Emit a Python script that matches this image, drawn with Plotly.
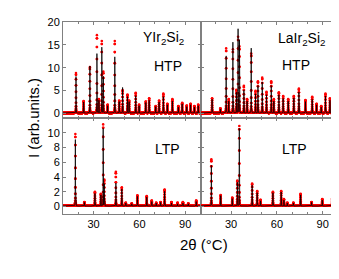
import numpy as np
import plotly.graph_objects as go
from plotly.subplots import make_subplots

# ---- data: peak positions (2theta) and heights ----
y_htp_pos = [18.5, 23.5, 27.6, 32.2, 33.5, 35.4, 36.4, 39.2, 43.9, 46.8, 49.0, 52.2, 53.3, 57.6, 59.8,
             64.2, 66.4, 70.7, 72.9, 75.7, 78.3, 81.6, 85.5, 88.0, 91.0, 93.5, 96.0, 98.5]
y_htp_obs = [8.7, 2.6, 10.0, 17.0, 3.0, 15.7, 9.0, 1.8, 15.7, 2.7, 5.0, 4.0, 2.7, 4.4, 1.8,
             2.5, 3.2, 1.5, 2.7, 4.2, 2.0, 3.0, 1.5, 2.2, 1.6, 2.0, 1.5, 1.8]
y_htp_calc = [8.0, 2.4, 10.3, 13.0, 2.8, 14.4, 8.0, 1.6, 12.3, 2.5, 5.6, 3.6, 2.5, 3.8, 1.6,
              2.3, 2.8, 1.4, 2.4, 3.6, 1.8, 2.6, 1.3, 2.0, 1.4, 1.8, 1.3, 1.6]

la_htp_pos = [17.6, 23.0, 26.8, 28.5, 31.2, 33.5, 34.6, 35.5, 38.4, 40.5, 43.2, 46.0, 47.6, 50.4, 53.2,
              56.3, 58.0, 61.3, 64.1, 67.4, 71.1, 74.4, 78.7, 83.1, 86.0, 89.0, 91.8, 94.7, 97.3]
la_htp_obs = [3.2, 1.0, 14.1, 3.0, 13.9, 5.0, 16.6, 14.5, 5.9, 3.0, 13.0, 4.8, 6.9, 7.7, 4.6,
              6.9, 3.0, 4.5, 3.7, 3.0, 3.7, 5.3, 2.8, 3.5, 2.0, 1.5, 4.2, 3.2, 3.6]
la_htp_calc = [3.0, 0.9, 12.5, 2.6, 15.5, 4.5, 18.4, 16.0, 5.0, 2.6, 14.2, 4.2, 6.0, 6.8, 4.0,
               6.0, 2.6, 4.0, 3.2, 2.6, 3.3, 4.6, 2.5, 3.0, 1.8, 1.3, 3.7, 2.8, 3.2]

y_ltp_pos = [18.1, 24.0, 30.9, 34.8, 36.3, 37.0, 44.6, 48.5, 51.1, 55.0, 58.7, 64.8, 68.1, 71.0,
             73.9, 76.5, 81.0, 85.0, 88.5, 92.0, 97.2]
y_ltp_obs = [9.7, 0.5, 1.9, 1.6, 11.0, 3.5, 4.6, 2.5, 0.4, 0.3, 1.4, 1.3, 0.7, 0.4,
             0.5, 2.2, 0.5, 0.4, 0.5, 0.3, 0.7]
y_ltp_calc = [9.0, 0.5, 1.7, 1.5, 10.5, 3.0, 3.1, 2.3, 0.4, 0.3, 1.3, 1.2, 0.6, 0.4,
              0.5, 2.0, 0.4, 0.3, 0.4, 0.3, 0.6]

la_ltp_pos = [17.1, 23.2, 30.8, 34.1, 35.4, 43.8, 47.1, 49.3, 57.4, 62.8, 64.6, 66.8, 70.8, 75.5,
              82.7, 89.7, 96.2]
la_ltp_obs = [6.3, 1.45, 1.1, 3.4, 10.8, 3.0, 2.0, 0.8, 1.9, 2.0, 0.9, 0.4, 0.4, 1.6, 0.5, 0.9, 1.0]
la_ltp_calc = [5.5, 1.4, 1.0, 3.2, 10.5, 2.8, 1.8, 0.7, 1.8, 1.9, 0.8, 0.4, 0.4, 1.5, 0.5, 0.8, 0.9]

x_ticks = [30, 60, 90]
y_ticks_top = [0, 5, 10, 15, 20]
y_ticks_bottom = [0, 2, 4, 6, 8, 10]
panel_names = ["YIr<sub>2</sub>Si<sub>2</sub>", "LaIr<sub>2</sub>Si<sub>2</sub>"]
phase_names = ["HTP", "LTP"]

# ---- build profiles from the peak lists ----
two_theta = np.arange(10, 100.0001, 0.02)


def profile(pos, heights, bg):
    y = np.full_like(two_theta, bg)
    for p, h in zip(pos, heights):
        d = two_theta - p
        g = np.exp(-0.5 * (d / 0.07) ** 2)
        lz = 1.0 / (1.0 + (d / 0.09) ** 2)
        y += h * (0.8 * g + 0.2 * lz)
    return y


panels = [
    (1, 1, y_htp_pos, y_htp_obs, y_htp_calc),
    (1, 2, la_htp_pos, la_htp_obs, la_htp_calc),
    (2, 1, y_ltp_pos, y_ltp_obs, y_ltp_calc),
    (2, 2, la_ltp_pos, la_ltp_obs, la_ltp_calc),
]

fig = make_subplots(rows=2, cols=2, horizontal_spacing=0, vertical_spacing=0)

for r, c, pos, obs, calc in panels:
    fig.add_trace(go.Scatter(x=two_theta, y=profile(pos, obs, 0.12), mode="markers",
                             marker=dict(color="#ff0000", size=2.6, line=dict(width=0)),
                             showlegend=False, hoverinfo="skip"), row=r, col=c)
    fig.add_trace(go.Scatter(x=two_theta, y=profile(pos, calc, 0.08), mode="lines",
                             line=dict(color="#000000", width=0.8),
                             showlegend=False, hoverinfo="skip"), row=r, col=c)

axis_common = dict(showline=True, linecolor="#808080", linewidth=1, mirror="ticks",
                   ticks="inside", ticklen=3, tickcolor="#808080", showgrid=False,
                   zeroline=False, tickfont=dict(size=11, color="#000000"))

for r in (1, 2):
    for c in (1, 2):
        fig.update_xaxes(range=[10, 100], tickvals=x_ticks, showticklabels=(r == 2),
                         minor=dict(dtick=10, tick0=0, ticks="inside", ticklen=2, tickcolor="#808080"),
                         row=r, col=c, **axis_common)
        if r == 1:
            fig.update_yaxes(range=[-1, 20], tickvals=y_ticks_top, showticklabels=(c == 1),
                             row=r, col=c, **axis_common)
        else:
            fig.update_yaxes(range=[-1, 12], tickvals=y_ticks_bottom, showticklabels=(c == 1),
                             row=r, col=c, **axis_common)

ann_font = dict(family="Liberation Sans, Arial, sans-serif", size=14, color="#000000")
annotations = [
    dict(x=0.364, y=0.919, text=panel_names[0]),
    dict(x=0.382, y=0.772, text=phase_names[0]),
    dict(x=0.868, y=0.914, text=panel_names[1]),
    dict(x=0.848, y=0.775, text=phase_names[0]),
    dict(x=0.380, y=0.339, text=phase_names[1]),
    dict(x=0.841, y=0.340, text=phase_names[1]),
]
for a in annotations:
    fig.add_annotation(xref="paper", yref="paper", showarrow=False, font=ann_font,
                       xanchor="center", yanchor="middle", **a)

fig.add_annotation(xref="paper", yref="paper", x=-0.109, y=0.5, text="I (arb.units.)",
                   textangle=-90, showarrow=False, font=dict(ann_font, size=15),
                   xanchor="center", yanchor="middle")
fig.add_annotation(xref="paper", yref="paper", x=0.513, y=-0.157, text="2θ (°C)",
                   showarrow=False, font=dict(ann_font, size=15),
                   xanchor="center", yanchor="middle")

fig.update_layout(width=339, height=279, margin=dict(l=55, r=8, t=9, b=73),
                  paper_bgcolor="white", plot_bgcolor="white",
                  font=dict(family="Liberation Sans, Arial, sans-serif", size=11, color="#000000"))

fig.write_html("out.html")
